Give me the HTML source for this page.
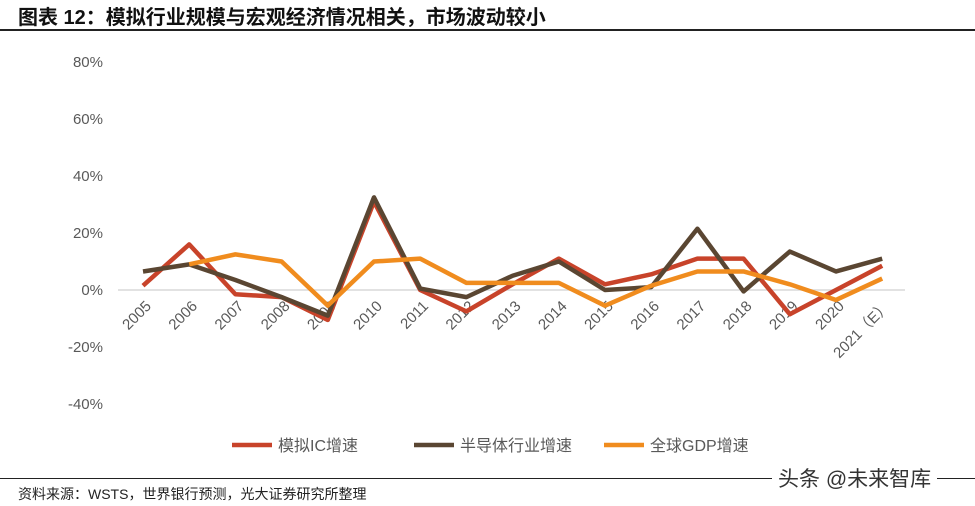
<!DOCTYPE html>
<html><head><meta charset="utf-8">
<style>
body{margin:0;background:#fff;width:975px;height:506px;overflow:hidden;font-family:"Liberation Sans","Noto Sans CJK SC",sans-serif;}
.title{position:absolute;left:18px;top:1px;font-size:20px;font-weight:bold;color:#111;}
.tline{position:absolute;left:0;top:29px;width:975px;height:2px;background:#222;}
.bline{position:absolute;left:0;top:478px;width:975px;height:1px;background:#222;}
.src{position:absolute;left:18px;top:484px;font-size:14px;color:#222;}
.wm{position:absolute;left:772px;top:463px;font-size:21px;color:#333;background:#fff;padding:0 6px;}
</style></head><body>
<div class="title">图表 12：模拟行业规模与宏观经济情况相关，市场波动较小</div>
<div class="tline"></div>
<svg id="c" width="975" height="506" style="position:absolute;left:0;top:0"></svg>
<div class="bline"></div>
<div class="src">资料来源：WSTS，世界银行预测，光大证券研究所整理</div>
<div class="wm">头条 @未来智库</div>
<script>
const categories=["2005","2006","2007","2008","2009","2010","2011","2012","2013","2014","2015","2016","2017","2018","2019","2020","2021（E）"];
const analogIC=[1.5,16,-1.5,-2.5,-10.5,31,0,-7.5,2,11,2,5.5,11,11,-8.5,0,8.5];
const semis=[6.5,9,3.5,-2.5,-9,32.5,0.5,-2.5,5,10,0,1,21.5,-0.5,13.5,6.5,11];
const gdp=[null,9,12.5,10,-5.5,10,11,2.5,2.5,2.5,-5.5,1.5,6.5,6.5,2,-3.5,4];
const yTicks=[80,60,40,20,0,-20,-40];
const seriesNames=["模拟IC增速","半导体行业增速","全球GDP增速"];
const colors=["#c8432a","#5a4632","#f08c1e"];
const NS="http://www.w3.org/2000/svg";
const svg=document.getElementById('c');
const y=v=>290-v*2.85;
const x=i=>143+i*46.2;
function mk(t,a){const e=document.createElementNS(NS,t);for(const k in a)e.setAttribute(k,a[k]);svg.appendChild(e);return e;}
const g=mk('line',{x1:118,x2:905,y1:y(0),y2:y(0),stroke:'#d9d9d9','stroke-width':1.5});


yTicks.forEach(v=>{const t=mk('text',{x:103,y:y(v)+5,'text-anchor':'end','font-size':15,fill:'#595959'});t.textContent=v+'%';

});
categories.forEach((c,i)=>{const t=mk('text',{transform:`translate(${x(i)+9},${y(0)+17}) rotate(-45)`,'text-anchor':'end','font-size':15,fill:'#595959'});t.textContent=c;

});
[analogIC,semis,gdp].forEach((s,k)=>{let d='';s.forEach((v,i)=>{if(v==null)return;d+=(d?'L':'M')+x(i)+','+y(v);});
const p=mk('path',{d,fill:'none',stroke:colors[k],'stroke-width':4.5,'stroke-linejoin':'round'});

});
const lx=[232,414,604];
seriesNames.forEach((n,k)=>{const l=mk('line',{x1:lx[k],x2:lx[k]+40,y1:445,y2:445,stroke:colors[k],'stroke-width':4.5});


const t=mk('text',{x:lx[k]+46,y:451,'font-size':16,fill:'#595959'});t.textContent=n;

});
</script>
</body></html>
